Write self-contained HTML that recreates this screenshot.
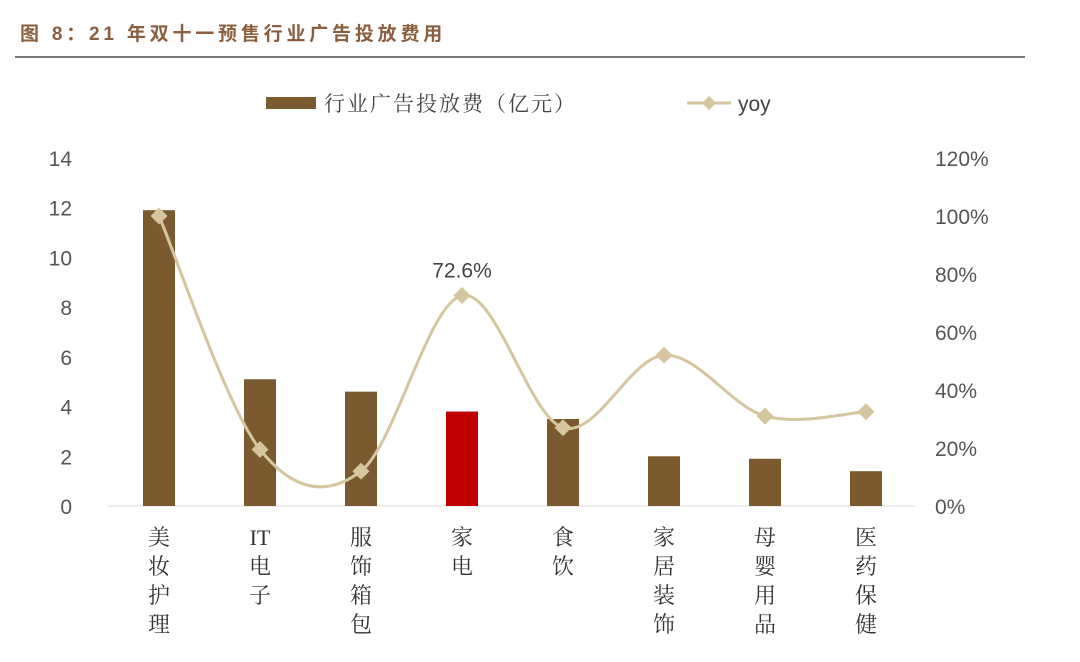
<!DOCTYPE html>
<html><head><meta charset="utf-8"><style>
body{margin:0;background:#fff;width:1080px;height:657px;overflow:hidden}
svg text{font-family:"Liberation Sans","Noto Sans CJK SC",sans-serif}
svg text.serif{font-family:"Liberation Serif","Noto Serif CJK SC",serif}
</style></head><body>
<svg id="c" width="1080" height="657">
<text x="20" y="40" font-size="19" font-weight="bold" fill="#8a5e3e" letter-spacing="3.8">图 8：21 年双十一预售行业广告投放费用</text>
<line x1="15" y1="57" x2="1025" y2="57" stroke="#777" stroke-width="2"/>
<g>
<rect x="266" y="97" width="50" height="12" fill="#7b5a2f"/>
<text class="serif" x="324" y="111" font-size="21" fill="#444" letter-spacing="2">行业广告投放费（亿元）</text>
<line x1="687" y1="103" x2="731" y2="103" stroke="#d5c6a0" stroke-width="3"/>
<rect x="704" y="98" width="10" height="10" fill="#d5c6a0" transform="rotate(45 709 103)"/>
<text x="738" y="111" font-size="21" fill="#444">yoy</text>
</g>
<g id="plot"></g>
</svg>
<script>
const categories=[["美","妆","护","理"],["IT","电","子"],["服","饰","箱","包"],["家","电"],["食","饮"],["家","居","装","饰"],["母","婴","用","品"],["医","药","保","健"]];
const spend=[11.9,5.1,4.6,3.8,3.5,2.0,1.9,1.4];
const yoy=[100,19.5,12,72.6,27,52,31,32.5];
const leftTicks=[0,2,4,6,8,10,12,14];
const rightTicks=[0,20,40,60,80,100,120];
const highlight=3;
const NS="http://www.w3.org/2000/svg";
const g=document.getElementById('plot');
const y0=506,yTop=158;
const yL=v=>y0-(v/14)*(y0-yTop);
const yR=v=>y0-(v/120)*(y0-yTop);
const xC=i=>159+i*101;
function mk(t,a,txt){const e=document.createElementNS(NS,t);for(const k in a)e.setAttribute(k,a[k]);if(txt!=null)e.textContent=txt;g.appendChild(e);return e;}
leftTicks.forEach(v=>{const e=mk('text',{x:72,y:yL(v)+8,'font-size':21,fill:'#555','text-anchor':'end'},v);

});
rightTicks.forEach(v=>{const e=mk('text',{x:935,y:yR(v)+8,'font-size':21,fill:'#555'},v+'%');

});
const ax=mk('line',{x1:108,y1:y0,x2:915,y2:y0,stroke:'#d9d9d9','stroke-width':1});


spend.forEach((v,i)=>{const r=mk('rect',{x:xC(i)-16,y:yL(v),width:32,height:y0-yL(v),fill:i===highlight?'#c00000':'#7b5a2f'});

});
categories.forEach((c,i)=>{c.forEach((ch,j)=>{const t=mk('text',{x:xC(i),y:545+j*29,'font-size':22,fill:'#333','text-anchor':'middle','class':'serif'},ch);

});});
const pts=yoy.map((v,i)=>[xC(i),yR(v)]);
let d='M'+pts[0][0]+','+pts[0][1];
for(let i=0;i<pts.length-1;i++){const p0=pts[Math.max(i-1,0)],p1=pts[i],p2=pts[i+1],p3=pts[Math.min(i+2,pts.length-1)];
const c1=[p1[0]+(p2[0]-p0[0])/6,p1[1]+(p2[1]-p0[1])/6],c2=[p2[0]-(p3[0]-p1[0])/6,p2[1]-(p3[1]-p1[1])/6];
d+=' C'+c1+' '+c2+' '+p2;}
const ln=mk('path',{d:d,fill:'none',stroke:'#d5c6a0','stroke-width':3});


pts.forEach((p,i)=>{const m=mk('rect',{x:p[0]-6,y:p[1]-6,width:12,height:12,fill:'#d5c6a0',transform:`rotate(45 ${p[0]} ${p[1]})`});

});
const lb=mk('text',{x:xC(highlight),y:yR(yoy[highlight])-18,'font-size':21,fill:'#444','text-anchor':'middle'},yoy[highlight]+'%');


</script>
</body></html>
